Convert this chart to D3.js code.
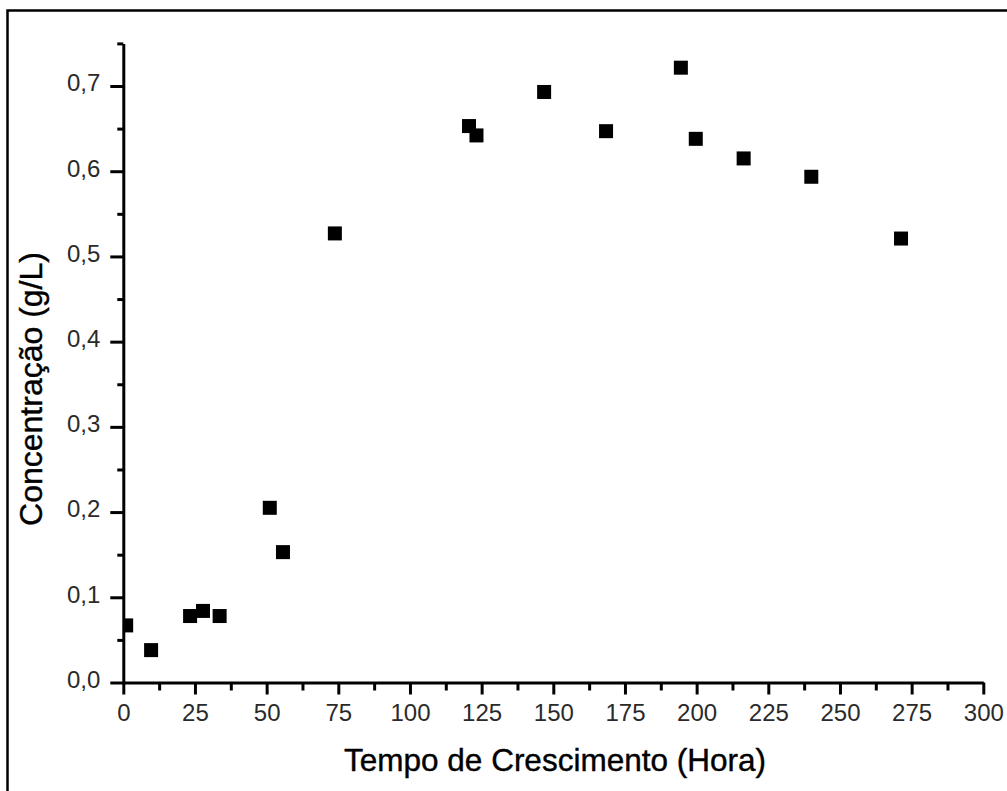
<!DOCTYPE html>
<html>
<head>
<meta charset="utf-8">
<script src="https://cdn.jsdelivr.net/npm/d3@7"></script>
<style>
html,body{margin:0;padding:0;background:#fff;}
svg{display:block;}
</style>
</head>
<body>
<svg id="chart" width="1007" height="791"></svg>
<script>
const tempo = [1, 9.7, 23.3, 27.8, 33.6, 51.1, 55.7, 73.8, 120.6, 123.2, 146.8, 168.4, 194.5, 199.7, 216.4, 240.0, 271.3];
const concentracao = [0.067, 0.038, 0.078, 0.084, 0.078, 0.205, 0.153, 0.527, 0.653, 0.642, 0.693, 0.647, 0.7215, 0.638, 0.615, 0.5935, 0.521];
const xMajorTicks = [0, 25, 50, 75, 100, 125, 150, 175, 200, 225, 250, 275, 300];
const yMajorTicks = [0, 0.1, 0.2, 0.3, 0.4, 0.5, 0.6, 0.7];
const xTitle = "Tempo de Crescimento (Hora)";
const yTitle = "Concentração (g/L)";

const svg = d3.select("#chart");
const L = 123.3, R = 983.3, B = 682.5, T = 43.4;
const x = d3.scaleLinear().domain([0, 300]).range([L, R]);
const y = d3.scaleLinear().domain([0, 0.75]).range([B, T]);
const loc = d3.formatLocale({decimal: ",", thousands: ".", grouping: [3], currency: ["", ""]});
const fy = loc.format(".1f");

// frame
svg.append("rect").attr("x", 7.5).attr("y", 10.5).attr("width", 1010).attr("height", 800)
  .attr("fill", "none").attr("stroke", "#000").attr("stroke-width", 2.5);

// clip
svg.append("clipPath").attr("id", "clip").append("rect")
  .attr("x", L).attr("y", T - 20).attr("width", R - L + 20).attr("height", B - T + 20);

const font = "'Liberation Sans', Arial, sans-serif";

// minor ticks
const xMinor = d3.range(12.5, 300, 25);
const yMinor = d3.range(0.05, 0.76, 0.1);
svg.append("g").attr("transform", `translate(0,${B})`)
  .call(d3.axisBottom(x).tickValues(xMinor).tickSize(8).tickSizeOuter(0).tickFormat(""))
  .call(g => g.select(".domain").remove())
  .call(g => g.selectAll("line").attr("stroke", "#000").attr("stroke-width", 3));
svg.append("g").attr("transform", `translate(${L},0)`)
  .call(d3.axisLeft(y).tickValues(yMinor).tickSize(6).tickSizeOuter(0).tickFormat(""))
  .call(g => g.select(".domain").remove())
  .call(g => g.selectAll("line").attr("stroke", "#000").attr("stroke-width", 3));

// major axes
svg.append("g").attr("transform", `translate(0,${B})`)
  .call(d3.axisBottom(x).tickValues(xMajorTicks).tickSize(12).tickSizeOuter(0).tickPadding(12))
  .call(g => g.select(".domain").attr("stroke", "#000").attr("stroke-width", 3))
  .call(g => g.selectAll("line").attr("stroke", "#000").attr("stroke-width", 3))
  .call(g => g.selectAll("text").attr("font-family", font).attr("font-size", 24).attr("fill", "#2a2a2a").attr("dy", "0.6em"));
svg.append("g").attr("transform", `translate(${L},0)`)
  .call(d3.axisLeft(y).tickValues(yMajorTicks).tickSize(13).tickSizeOuter(0).tickPadding(10).tickFormat(fy))
  .call(g => g.select(".domain").attr("stroke", "#000").attr("stroke-width", 3))
  .call(g => g.selectAll("line").attr("stroke", "#000").attr("stroke-width", 3))
  .call(g => g.selectAll("text").attr("font-family", font).attr("font-size", 24).attr("fill", "#2a2a2a").attr("dy", "0.2em"));

// points
const s = 14;
svg.append("g").attr("clip-path", "url(#clip)")
  .selectAll("rect").data(tempo.map((t, i) => [t, concentracao[i]])).join("rect")
  .attr("x", d => x(d[0]) - s / 2).attr("y", d => y(d[1]) - s / 2)
  .attr("width", s).attr("height", s).attr("fill", "#000");

// titles
svg.append("text").attr("x", 555).attr("y", 771).attr("text-anchor", "middle")
  .attr("font-family", font).attr("font-size", 31.5).attr("fill", "#000")
  .attr("stroke", "#000").attr("stroke-width", 0.4).text(xTitle);
svg.append("text").attr("transform", `translate(42,${389}) rotate(-90)`).attr("text-anchor", "middle")
  .attr("font-family", font).attr("font-size", 32).attr("fill", "#000")
  .attr("stroke", "#000").attr("stroke-width", 0.4).text(yTitle);
</script>
</body>
</html>
